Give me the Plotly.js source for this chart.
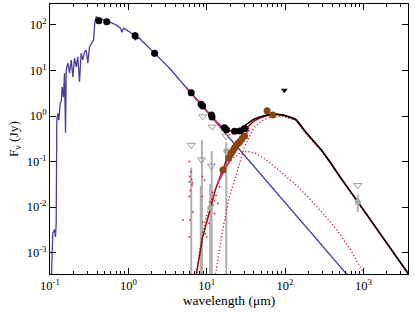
<!DOCTYPE html>
<html>
<head>
<meta charset="utf-8">
<script src="https://cdn.plot.ly/plotly-3.0.1.min.js"></script>
<style>html,body{margin:0;padding:0;background:#fff;}#chart{width:415px;height:312px;}</style>
</head>
<body>
<div id="chart"></div>
<script>
// Stellar photosphere model (blue)
const starLam = [0.1035,0.1067,0.1086,0.114,0.1175,0.120,0.1222,0.1259,0.1295,0.135,0.140,0.143,0.1487,0.153,0.158,0.161,0.169,0.1774,0.1866,0.1955,0.2055,0.216,0.2265,0.238,0.250,0.2624,0.276,0.290,0.304,0.319,0.342,0.360,0.3735,0.389,0.4285,0.547,0.700,0.794,0.826,0.869,1.035,1.20,1.284,1.36,2.16,3.36,5,10,30,100,300,1000];
const starF   = [0.0002,0.00098,0.0027,0.0032,0.0022,0.0045,0.81,1.15,0.81,1.9,2.24,4.4,2.6,8.7,0.43,10.2,14.5,8.7,17,7.2,18.6,12,20,5.6,24,17,25.7,28,14.5,33,40,47,117,151,141,117,100,85,69,85,71,60,49,52.5,24,11.2,5.05,1.26,0.14,0.0126,0.0014,0.000126];

// Total model (black)
const totLam = [14,16,18,20,23,26,30,35,40,50,60,77,95,120,138,187,250,291,372,500,850,1500,2500,3700,5000];
const totF   = [0.68,0.56,0.50,0.47,0.46,0.50,0.60,0.72,0.85,0.98,1.06,1.10,1.05,0.93,0.84,0.43,0.25,0.18,0.10,0.047,0.013,0.0032,0.00092,0.00035,0.00017];

// Total dust excess model (dark red)
const dustLam = [7.0,7.4,8.9,11,13.1,16,18,20,23,26,30,35,40,50,60,77,95,120,138,187,250,291,372,500,850,1500,2500,3700,5000];
const dustF   = [0.0002,0.00034,0.0022,0.0085,0.026,0.065,0.11,0.154,0.22,0.31,0.46,0.62,0.77,0.93,1.025,1.08,1.04,0.92,0.83,0.43,0.25,0.18,0.10,0.047,0.013,0.0032,0.00092,0.00035,0.00017];

// Warm dust component (dotted)
const warmLam = [7.5,8,9,10,12,14,16,19,22,26,32,43,57,75,100,140,200,300,450,700,1018,1100];
const warmF   = [0.0003,0.0009,0.003,0.0065,0.018,0.035,0.058,0.09,0.12,0.15,0.17,0.15,0.11,0.075,0.05,0.03,0.016,0.0075,0.0033,0.0011,0.00034,0.0002];

// Cold dust component (dotted)
const coldLam = [12.5,13,16,19.5,23.6,30,40,50,60,77,95,120,138,187,291,372,500,850,1500,2500,3700,5000];
const coldF   = [0.0002,0.00034,0.0031,0.017,0.047,0.2,0.55,0.78,0.9,0.98,0.98,0.88,0.8,0.40,0.17,0.095,0.046,0.0128,0.0032,0.00092,0.00035,0.00017];

// IRS spectrum (pink) and photosphere-subtracted excess spectrum
const irsLam = [5.5,8,10,12,14,16,18,20,22,25,28,32,35];
const irsF   = [4.2,2.0,1.3,0.9,0.68,0.56,0.5,0.47,0.45,0.46,0.48,0.52,0.55];
const excLam = [14,15,16,17,18,19.5,21,23,25,27,29,32,35];
const excF   = [0.035,0.045,0.058,0.07,0.082,0.1,0.13,0.17,0.22,0.27,0.33,0.42,0.5];
const excDotLam = [6.0,6.1,6.5,6.2,6.0,6.6,6.7,6.1,6.0,6.0,8.9,9.4,8.8,8.9,9.6,10.9,11.8,12.2,13.0,13.2,12.6,12.0,11.4,13.9,14.6,10.7,12.6,13.9,10.0,5.0,6.3,6.4];
const excDotF   = [0.036,0.047,0.030,0.023,0.017,0.034,0.0078,0.0052,0.0022,0.1,0.047,0.039,0.017,0.0047,0.0026,0.013,0.021,0.017,0.026,0.018,0.014,0.011,0.0085,0.034,0.028,0.0044,0.0072,0.012,0.0022,0.0052,0.06,0.04];

// Photometry (black)
const photLam = [0.42,0.53,1.22,2.16,6.35,8.5,8.9,11.5,11.7,16.9,17.9,22.7,26.3,30.5];
const photF   = [124,118,58,24,3.26,1.81,1.66,1.05,0.95,0.55,0.5,0.46,0.47,0.53];
const photErr = [0,0,12,4,0,0,0,0,0,0,0,0,0,0];

// Excess photometry (brown)
const excPhotLam = [16.1,19,20.5,21.5,22.6,23.6,25,26.3,28,30.5,59,70];
const excPhotF   = [0.065,0.12,0.15,0.17,0.195,0.22,0.25,0.27,0.31,0.36,1.3,1.05];

// Upper limits (grey open) and filled limit
const ulLam = [6.35,8.9,8.6,11.8,11.5,17.7,850];
const ulF   = [0.23,0.97,0.11,0.58,0.08,0.36,0.030];
const ul2Lam = [98];
const ul2F   = [3.7];

// Low S/N points (grey error bars)
const greyLam = [6.35,8.7,8.4,11.6,11.1,17.8,850];
const greyTop = [0.073,0.30,0.029,0.17,0.032,0.26,0.019];
const greyBot = [0.0001,0.0001,0.0001,0.0001,0.0001,0.0001,0.0078];
const greyPtLam = [11.1,17.8,850];
const greyPtF   = [0.0095,0.17,0.013];

const yTickVals = [0.001,0.01,0.1,1,10,100];
const yTickText = ['10<sup>-3</sup>','10<sup>-2</sup>','10<sup>-1</sup>','10<sup>0</sup>','10<sup>1</sup>','10<sup>2</sup>'];
const xTickVals = [0.1,1,10,100,1000];
const xTickText = ['10<sup>-1</sup>','10<sup>0</sup>','10<sup>1</sup>','10<sup>2</sup>','10<sup>3</sup>'];

const gx = [], gy = [];
greyLam.forEach((l,i)=>{ gx.push(l,l,null); gy.push(greyTop[i],greyBot[i],null); });

const DOT = '#b22222';
const DOTDASH = '1.2px,2.2px';
const traces = [
  {x: gx, y: gy, mode:'lines', line:{color:'#b0b0b0', width:2}},
  {x: starLam, y: starF, mode:'lines', line:{color:'#4a3f98', width:1.3}},
  {x: warmLam, y: warmF, mode:'lines', line:{color:DOT, width:1.3, dash:DOTDASH}},
  {x: coldLam, y: coldF, mode:'lines', line:{color:DOT, width:1.3, dash:DOTDASH}},
  {x: dustLam, y: dustF, mode:'lines', line:{color:'#9a0a0a', width:1.5}},
  {x: totLam, y: totF, mode:'lines', line:{color:'#000', width:1.5}},
  {x: irsLam, y: irsF, mode:'lines', line:{color:'#cc3366', width:1.8}},
  {x: excLam, y: excF, mode:'lines', line:{color:'#cc3366', width:1.8}},
  {x: excDotLam, y: excDotF, mode:'markers', marker:{color:'#d04070', size:2}},
  {x: greyPtLam, y: greyPtF, mode:'markers', marker:{color:'#a8a8a8', size:6}},
  {x: ulLam, y: ulF, mode:'markers', marker:{symbol:'triangle-down-open', color:'#999', size:7, line:{width:1}}},
  {x: ul2Lam, y: ul2F, mode:'markers', marker:{symbol:'triangle-down', color:'#000', size:6}},
  {x: photLam, y: photF, mode:'markers', marker:{color:'#000', size:7},
   error_y:{type:'data', array:photErr, color:'#000', thickness:1.5, width:0}},
  {x: excPhotLam, y: excPhotF, mode:'markers', marker:{color:'#8b4513', size:7}}
];

const FONT = 'Liberation Serif';
const axisCommon = {
  type:'log', showline:true, linecolor:'#000', linewidth:1, mirror:'ticks',
  ticks:'inside', tickcolor:'#000', ticklen:6, tickwidth:1, showgrid:false, zeroline:false,
  tickfont:{family:FONT, size:12.5, color:'#000'}
};

const layout = {
  width:415, height:312, margin:{l:50, r:7, t:4, b:38},
  paper_bgcolor:'#fff', plot_bgcolor:'#fff', showlegend:false,
  font:{family:FONT, color:'#000'},
  xaxis: Object.assign({}, axisCommon, {
    range:[-1, 3.57], tickvals:xTickVals, ticktext:xTickText,
    minor:{dtick:'D1', ticks:'inside', ticklen:3, tickcolor:'#000', showgrid:false},
    title:{text:'wavelength (μm)', font:{family:FONT, size:13.5}, standoff:1}
  }),
  yaxis: Object.assign({}, axisCommon, {
    range:[-3.47, 2.46], tickvals:yTickVals, ticktext:yTickText,
    title:{text:'F<sub>ν</sub> (Jy)', font:{family:FONT, size:13.5}, standoff:4}
  })
};

Plotly.newPlot('chart', traces, layout, {staticPlot:true, displayModeBar:false});
</script>
</body>
</html>
